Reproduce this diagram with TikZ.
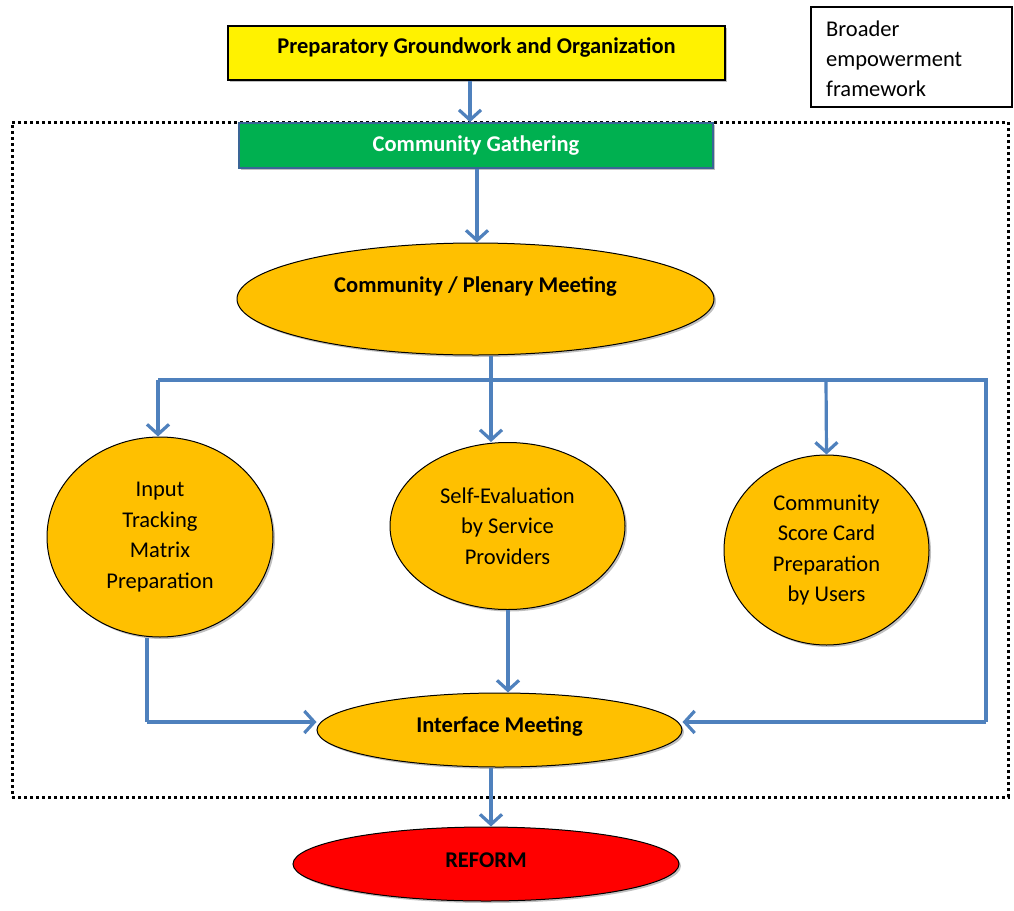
\documentclass[tikz,border=0pt]{standalone}
\usepackage{fontspec}
\setmainfont{Carlito}
\usetikzlibrary{shapes.geometric,arrows.meta,shadows}
\definecolor{flow}{HTML}{4F81BD}
\definecolor{amber}{HTML}{FFC000}
\definecolor{leaf}{HTML}{00B050}
\definecolor{rim}{HTML}{3A6596}
\tikzset{
  shade/.style={drop shadow={shadow xshift=2pt,shadow yshift=-2pt,opacity=0.35,fill=black!70}},
  oval/.style={ellipse,draw=black,line width=1pt,fill=amber,inner sep=0pt,shade},
  link/.style={draw=flow,line width=3.2pt,-{Straight Barb[length=10pt,width=22pt,line width=3.2pt]}},
  wire/.style={draw=flow,line width=3.2pt},
  txt/.style={font=\fontsize{22.5}{30.5}\selectfont,align=center},
  bold/.style={font=\fontsize{22.5}{26}\selectfont\bfseries},
}
\begin{document}
\begin{tikzpicture}[x=1pt,y=-1pt]
\useasboundingbox[fill=white] (0,0) rectangle (1014,910);

% boundary of the empowerment framework
\node[draw,line width=3pt,dash pattern=on 3pt off 3pt,minimum width=996pt,minimum height=675pt,inner sep=0pt] (frame) at (510,459.5) {};

% key box
\node[draw,line width=1.3pt,minimum width=201pt,minimum height=100pt,inner sep=0pt] (key) at (911.5,57) {};
\node[anchor=west,align=left,font=\fontsize{22.5}{30}\selectfont,inner sep=0pt] (keytext) at (826,59) {Broader\\empowerment\\framework};

% top boxes
\node[draw=black,line width=1.4pt,fill=yellow,minimum width=497pt,minimum height=54pt,shade,
      label={[bold]center:\raisebox{14pt}{Preparatory Groundwork and Organization}}] (prep) at (476.5,53) {};
\node[draw=rim,line width=1.8pt,fill=leaf,minimum width=474pt,minimum height=45pt,bold,text=white,shade] (gather) at (476,145.5) {Community Gathering};

% meetings and activities
\node[oval,minimum width=477pt,minimum height=112pt,
      label={[bold]center:\raisebox{28pt}{Community / Plenary Meeting}}] (plenary) at (475.5,299) {};
\node[oval,minimum width=226pt,minimum height=200pt,txt] (input) at (160,537) {Input\\Tracking\\Matrix\\Preparation};
\node[oval,minimum width=235pt,minimum height=167pt,txt] (self) at (507.5,526) {Self-Evaluation\\by Service\\Providers};
\node[oval,minimum width=205pt,minimum height=190pt,txt] (score) at (826.5,550) {Community\\Score Card\\Preparation\\by Users};
\node[oval,minimum width=365pt,minimum height=74pt,
      label={[bold]center:\raisebox{10pt}{Interface Meeting}}] (iface) at (499.5,730) {};
\node[oval,fill=red,minimum width=386pt,minimum height=74pt,
      label={[bold]center:\raisebox{8pt}{REFORM}}] (reform) at (486,864) {};

% junction points of the distribution line
\coordinate (busL) at (158,380);
\coordinate (busM) at (491,380);
\coordinate (busS) at (826,380);
\coordinate (busR) at (986,380);
\coordinate (retR) at (986,722);
\coordinate (retL) at (147,722);

% connectors
\draw[link] (prep.south -| 470,0) -- (gather.north -| 470,0);
\draw[link] (gather.south -| 477,0) -- (plenary.north -| 477,0);
\draw[wire] (plenary.south -| busM) -- (busM);
\draw[wire,line join=miter] (busL) -- (busR) -- (retR);
\draw[link] (busL) -- (input.north -| busL);
\draw[link] (busM) -- (self.north -| busM);
\draw[link] (busS) -- (score.north);
\draw[link] (retR) -- (iface.east |- retR);
\draw[wire] (input.south -| retL) -- (retL);
\draw[link] (retL) -- (iface.west |- retL);
\draw[link] (self.south -| 508,0) -- (iface.north -| 508,0);
\draw[link] (iface.south -| 491,0) -- (reform.north -| 491,0);
\end{tikzpicture}
\end{document}
